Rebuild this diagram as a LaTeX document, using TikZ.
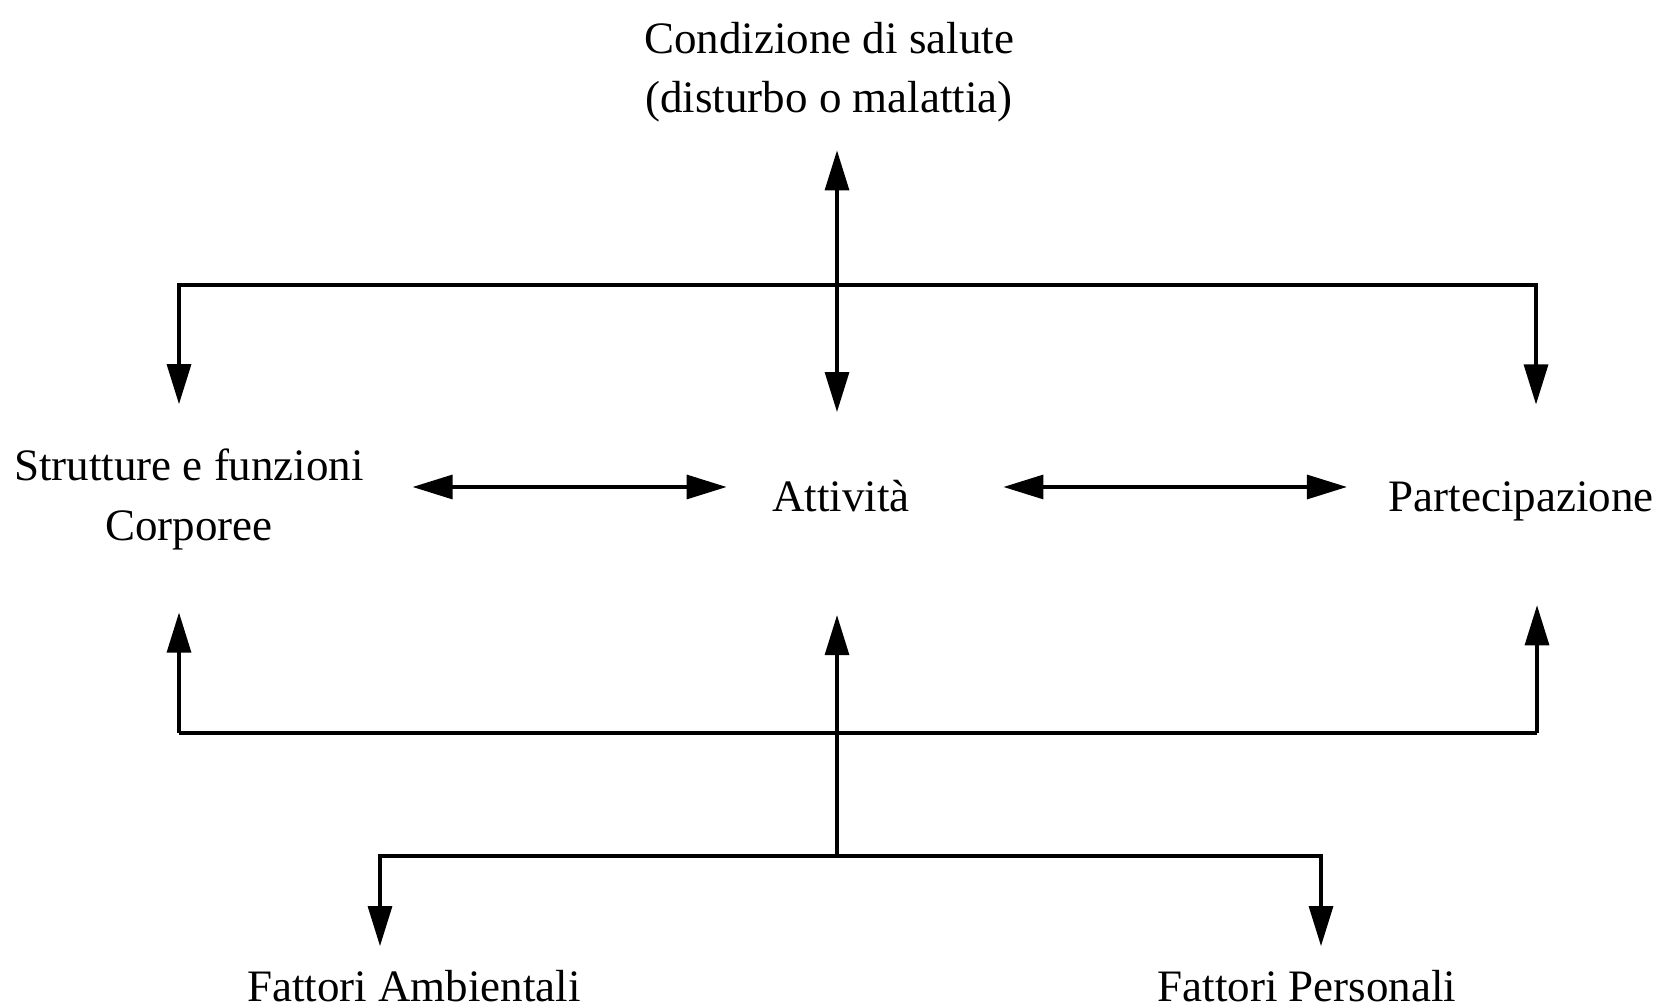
\documentclass[tikz,border=0pt]{standalone}
\usepackage{fontspec}
\setmainfont{Liberation Serif}
\usetikzlibrary{arrows.meta}
\tikzset{
  lbl/.style={align=center,inner sep=0pt,font=\fontsize{12.8}{15.3}\selectfont},
  link/.style={draw=black,line width=.9pt},
  arr/.style={link,-{Triangle[length=4mm,width=2.4mm]}},
  dbl/.style={link,{Triangle[length=4mm,width=2.4mm]}-{Triangle[length=4mm,width=2.4mm]}},
}

\begin{document}
\begin{tikzpicture}
  \useasboundingbox (0,0) rectangle (16.66,10.08);

  % ---- labels ----
  \node[lbl] (cond) at (8.29,9.362) {Condizione di salute\\[1.5pt](disturbo o malattia)};
  \node[lbl] (str) at (1.89,5.086) {Strutture e funzioni\\[1.7pt]Corporee};
  \node[lbl,anchor=base] (att) at (8.41,4.96) {Attività};
  \node[lbl,anchor=base] (part) at (15.21,4.96) {Partecipazione};
  \node[lbl,anchor=base] (amb) at (4.14,0.06) {Fattori Ambientali};
  \node[lbl,anchor=base] (pers) at (13.07,0.06) {Fattori Personali};

  % ---- junction points ----
  \coordinate (hubT) at (8.37,7.23);
  \coordinate (cornTL) at (1.79,7.23);
  \coordinate (cornTR) at (15.36,7.23);
  \coordinate (rowA) at (8.37,5.21);
  \coordinate (cornBL) at (1.79,2.75);
  \coordinate (cornBR) at (15.37,2.75);
  \coordinate (hubB) at (8.37,1.52);
  \coordinate (cornBA) at (3.80,1.52);
  \coordinate (cornBP) at (13.21,1.52);

  % ---- upper branch ----
  \draw[dbl,shorten <=2.8mm,shorten >=6.8mm] (cond.south -| hubT) -- (att.north -| hubT);
  \draw[arr,shorten >=4.4mm] (hubT) -| (cornTL |- str.north);
  \draw[arr,shorten >=7.7mm] (hubT) -| (cornTR |- part.north);

  % ---- middle row ----
  \draw[dbl,shorten <=4.8mm,shorten >=4.5mm] (str.east |- rowA) -- (att.west |- rowA);
  \draw[dbl,shorten <=9.3mm,shorten >=4.1mm] (att.east |- rowA) -- (part.west |- rowA);

  % ---- lower branch ----
  \draw[link] (cornBL) -- (cornBR);
  \draw[arr,shorten >=6.2mm] (cornBL) -- (cornBL |- str.south);
  \draw[arr,shorten >=8.3mm] (cornBR) -- (cornBR |- part.south);
  \draw[arr,shorten >=10.2mm] (hubB) -- (hubB |- att.south);
  \draw[arr,shorten >=2.4mm] (hubB) -| (cornBA |- amb.north);
  \draw[arr,shorten >=2.4mm] (hubB) -| (cornBP |- pers.north);
\end{tikzpicture}
\end{document}
